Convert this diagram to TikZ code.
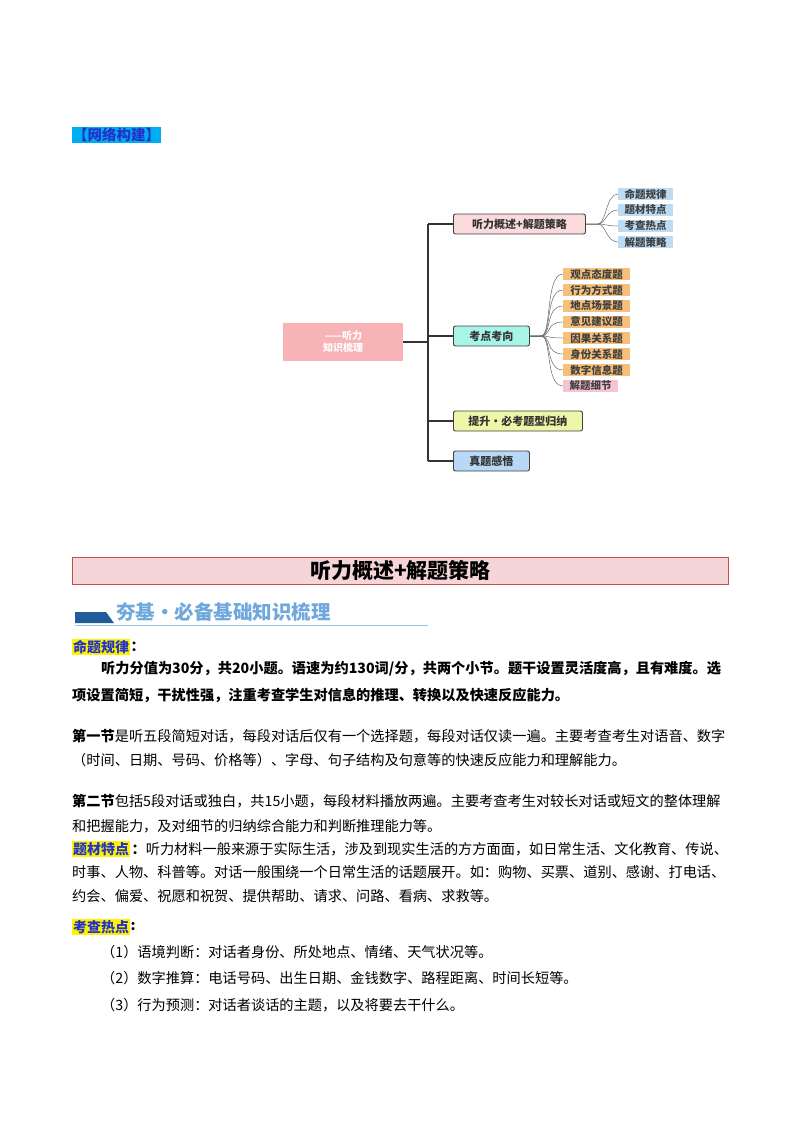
\documentclass[tikz,border=0pt]{standalone}
\usepackage{fontspec}
\setmainfont{Noto Sans CJK SC}
\definecolor{pinkbox}{HTML}{FADADD}
\definecolor{cyanbox}{HTML}{A8F5E8}
\definecolor{ygbox}{HTML}{EEF7A8}
\definecolor{bluebox}{HTML}{B8D8F5}
\definecolor{leafblue}{HTML}{BDDCF4}
\definecolor{leaforange}{HTML}{F7C07A}
\definecolor{leafpink}{HTML}{F7C3D3}
\definecolor{centerpink}{HTML}{F7B3B5}
\definecolor{titlepink}{HTML}{F5D5D8}
\definecolor{titlered}{HTML}{C0504D}
\definecolor{hdrblue}{HTML}{1F5C99}
\definecolor{hdrlight}{HTML}{6FA8DC}
\definecolor{kwblue}{HTML}{2233CC}
\tikzset{
 branch/.style={draw=black!75,line width=0.9pt,rounded corners=2pt,anchor=west,minimum height=20pt,inner xsep=6pt,font=\fontsize{11}{11}\selectfont\bfseries,text=black!80},
 leaf/.style={anchor=west,minimum height=12pt,inner sep=1pt,font=\fontsize{10.5}{10.5}\selectfont\bfseries,text=black!75},
 trunk/.style={draw=black!80,line width=1.4pt},
 twig/.style={draw=black!60,line width=0.5pt},
 body/.style={anchor=west,inner sep=0pt,font=\fontsize{14.2}{15}\selectfont},
 bbody/.style={anchor=west,inner sep=0pt,font=\fontsize{14.2}{15}\selectfont\bfseries},
 kw/.style={anchor=west,inner sep=1pt,fill=yellow,text=kwblue,font=\fontsize{14}{15}\selectfont\bfseries},
}
\begin{document}
\begin{tikzpicture}[x=1pt,y=-1pt]
\useasboundingbox (0,0) rectangle (800,1132);
% header
\node[anchor=west,fill=cyan,text=kwblue,inner sep=1pt,font=\fontsize{14.5}{15}\selectfont\bfseries] (net) at (72,135) {【网络构建】};
% mindmap
\node[fill=centerpink,minimum width=120pt,minimum height=38pt,anchor=west,text=white,align=left,font=\fontsize{10}{12}\selectfont\bfseries] (c) at (283,342) {\,——听力\\知识梳理};
\coordinate (tt) at (428,224);
\coordinate (tb) at (428,461);
\coordinate (tm) at (428,342);
\node[branch,fill=pinkbox,minimum width=132pt] (b1) at (453,224) {听力概述+解题策略};
\node[branch,fill=cyanbox,minimum width=76pt] (b2) at (453,336) {考点考向};
\node[branch,fill=ygbox,minimum width=129pt] (b3) at (453,421) {提升·必考题型归纳};
\node[branch,fill=bluebox,minimum width=76pt] (b4) at (453,461) {真题感悟};
\draw[trunk] (c.east) -- (tm);
\draw[trunk] (tt) -- (tb);
\draw[trunk] (tt) -- (b1.west);
\draw[trunk] (tm |- b2.west) -- (b2.west);
\draw[trunk] (tm |- b3.west) -- (b3.west);
\draw[trunk] (tb) -- (b4.west);
% leaves of b1
\foreach \t/\y [count=\i] in {命题规律/194,题材特点/210,考查热点/226,解题策略/242}{
  \node[leaf,fill=leafblue,minimum width=55pt] (l\i) at (618,\y) {\t};
  \draw[twig] (b1.east) -- (598,224) .. controls (606,224) and (606,\y) .. (l\i.west);
}
% leaves of b2
\foreach \t/\y [count=\i] in {观点态度题/274,行为方式题/290,地点场景题/306,意见建议题/322,因果关系题/338,身份关系题/354,数字信息题/370}{
  \node[leaf,fill=leaforange,minimum width=67pt] (m\i) at (563,\y) {\t};
  \draw[twig] (b2.east) -- (541,336) .. controls (552,336) and (545,\y) .. (m\i.west);
}
\node[leaf,fill=leafpink,minimum width=55pt] (m8) at (563,386) {解题细节};
\draw[twig] (b2.east) -- (541,336) .. controls (552,336) and (545,386) .. (m8.west);
% title bar
\node[draw=titlered,line width=1pt,fill=titlepink,minimum width=656pt,minimum height=27pt,anchor=west,font=\fontsize{21}{22}\selectfont\bfseries] (title) at (72,571) {听力概述+解题策略};
% section header
\fill[hdrblue] (75,612) -- (106,612) -- (114,623) -- (75,623) -- cycle;
\draw[hdrlight!70,line width=0.8pt] (75,625) -- (428,625);
\node[anchor=west,inner sep=0pt,text=hdrlight,font=\fontsize{19.5}{20}\selectfont\bfseries] (sec) at (116,612) {夯基·必备基础知识梳理};
% text
\node[kw] (k1) at (72,647) {命题规律};
\node[bbody] at (k1.east) {：};
\node[bbody] at (101,669) {听力分值为30分，共20小题。语速为约130词/分，共两个小节。题干设置灵活度高，且有难度。选};
\node[bbody] at (72,695) {项设置简短，干扰性强，注重考查学生对信息的推理、转换以及快速反应能力。};
\node[body] at (72,736) {\textbf{第一节}是听五段简短对话，每段对话后仅有一个选择题，每段对话仅读一遍。主要考查考生对语音、数字};
\node[body] at (72,760) {（时间、日期、号码、价格等）、字母、句子结构及句意等的快速反应能力和理解能力。};
\node[body] at (72,801) {\textbf{第二节}包括5段对话或独白，共15小题，每段材料播放两遍。主要考查考生对较长对话或短文的整体理解};
\node[body] at (72,826) {和把握能力，及对细节的归纳综合能力和判断推理能力等。};
\node[kw] (k2) at (72,849) {题材特点};
\node[body] at ([xshift=1pt]k2.east) {\textbf{：}听力材料一般来源于实际生活，涉及到现实生活的方方面面，如日常生活、文化教育、传说、};
\node[body] at (72,872) {时事、人物、科普等。对话一般围绕一个日常生活的话题展开。如：购物、买票、道别、感谢、打电话、};
\node[body] at (72,896) {约会、偏爱、祝愿和祝贺、提供帮助、请求、问路、看病、求救等。};
\node[kw] (k3) at (72,927) {考查热点};
\node[bbody] at (k3.east) {:};
\node[body] at (101,952) {（1）语境判断：对话者身份、所处地点、情绪、天气状况等。};
\node[body] at (101,978) {（2）数字推算：电话号码、出生日期、金钱数字、路程距离、时间长短等。};
\node[body] at (101,1005) {（3）行为预测：对话者谈话的主题，以及将要去干什么。};
\end{tikzpicture}
\end{document}
